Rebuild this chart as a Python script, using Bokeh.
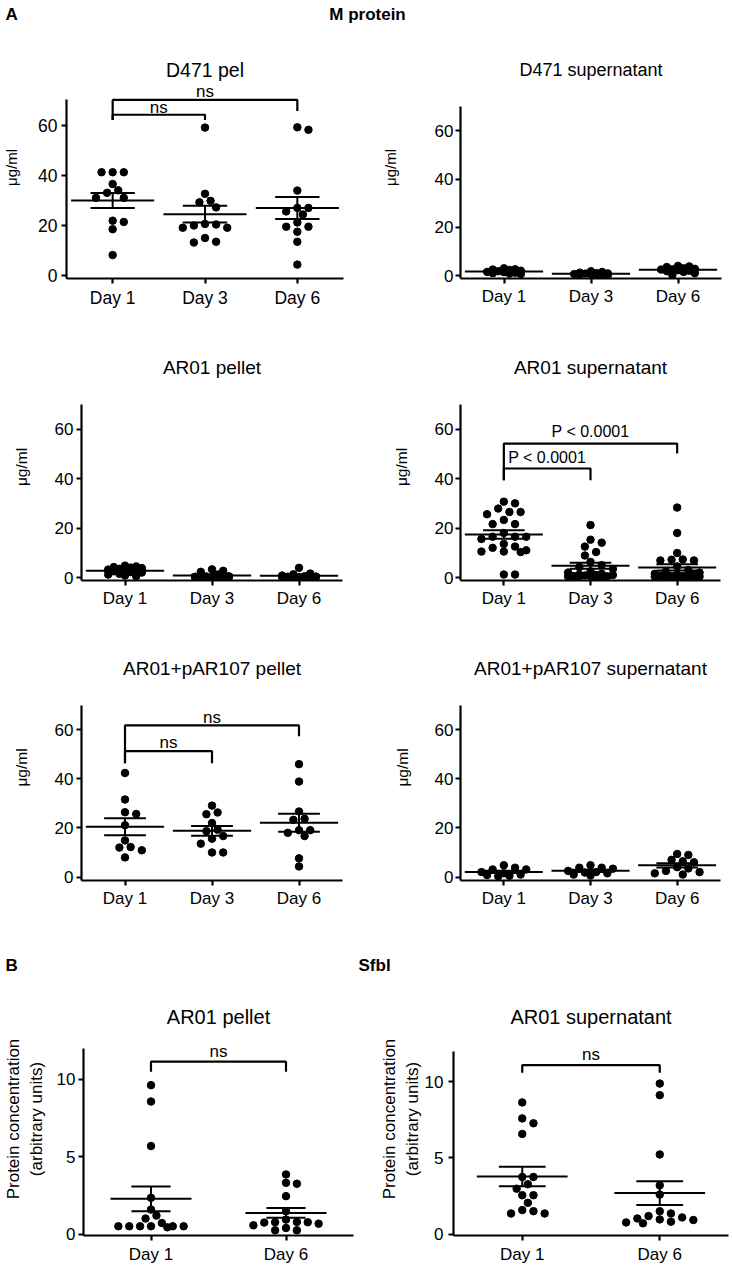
import numpy as np
from bokeh.plotting import figure
from bokeh.models import Range1d, FixedTicker, Label
from bokeh.layouts import column, row
from bokeh.embed import file_html
from bokeh.resources import INLINE

FONT = "Liberation Sans"

# ---------------- data ----------------
days3 = ["Day 1", "Day 3", "Day 6"]
days2 = ["Day 1", "Day 6"]

d471_pel_day1 = [41.2, 41.2, 41.2, 36.5, 34.0, 33.0, 31.0, 31.0, 21.9, 21.4, 18.5, 8.2]
d471_pel_day3 = [59.0, 32.6, 29.8, 29.2, 27.2, 20.6, 20.4, 20.0, 19.1, 19.1, 15.0, 13.5, 13.2]
d471_pel_day6 = [59.1, 58.1, 33.9, 27.0, 27.0, 25.6, 24.4, 21.2, 19.5, 19.5, 17.5, 13.5, 4.4]

d471_sup_day1 = [3.0, 2.6, 2.5, 2.3, 2.0, 1.8, 1.5, 1.4, 1.2, 1.0, 0.8, 0.6]
d471_sup_day3 = [1.8, 1.5, 1.2, 1.0, 0.9, 0.8, 0.6, 0.5, 0.4, 0.3, 0.3, 0.2]
d471_sup_day6 = [4.0, 3.8, 3.5, 3.0, 2.8, 2.6, 2.5, 2.2, 2.0, 1.8, 1.5, 1.0, 0.2]

ar01_pel_day1 = [4.8, 4.5, 4.2, 4.0, 3.8, 3.5, 3.2, 3.0, 2.8, 2.5, 2.2, 2.0, 1.5, 1.2, 0.8, 0.5]
ar01_pel_day3 = [3.3, 2.7, 2.3, 1.2, 0.5, 0.4, 0.3, 0.2, 0.2, 0.1, 0.1, 0.0, 0.0, 0.0]
ar01_pel_day6 = [3.9, 1.6, 1.3, 0.8, 0.5, 0.4, 0.3, 0.2, 0.2, 0.1, 0.1, 0.0, 0.0]

ar01_sup_day1 = [30.7, 30.0, 27.9, 26.5, 26.5, 25.6, 23.3, 21.6, 21.6, 18.0, 16.5, 16.5,
                 16.5, 15.6, 13.6, 12.5, 12.0, 11.0, 10.5, 10.5, 10.3, 1.2, 1.2]
ar01_sup_day3 = [21.2, 15.3, 14.1, 12.5, 10.3, 8.9, 6.3, 5.0, 4.2, 3.5, 2.5, 2.0, 1.5, 1.2,
                 1.0, 1.0, 0.8, 0.6, 0.5, 0.5, 0.4, 0.3, 0.3, 0.2]
ar01_sup_day6 = [28.3, 18.0, 9.9, 7.3, 7.2, 6.9, 6.9, 4.5, 3.0, 2.5, 2.0, 1.5, 1.2, 1.0,
                 0.8, 0.6, 0.6, 0.5, 0.5, 0.4, 0.4, 0.3, 0.3, 0.3, 0.2, 0.2]

par107_pel_day1 = [42.4, 31.6, 26.4, 25.7, 21.1, 14.9, 12.2, 12.0, 10.9, 8.0]
par107_pel_day3 = [29.1, 26.3, 25.6, 22.0, 19.3, 18.7, 16.7, 15.6, 13.6, 10.0, 10.0]
par107_pel_day6 = [46.0, 38.9, 26.7, 23.7, 23.3, 19.1, 19.1, 18.0, 16.7, 7.6, 4.3]

par107_sup_day1 = [4.8, 3.8, 3.1, 3.1, 2.0, 1.5, 1.0, 0.8, 0.5, 0.3]
par107_sup_day3 = [4.8, 3.8, 3.8, 3.4, 2.5, 2.0, 1.8, 1.5, 1.0, 0.6]
par107_sup_day6 = [9.4, 9.0, 7.0, 6.4, 6.0, 4.0, 3.5, 2.5, 2.0, 1.5, 1.0]

sfbl_pel_day1 = [9.63, 8.57, 5.69, 2.34, 1.58, 1.19, 1.0, 0.71, 0.5, 0.5, 0.5, 0.5, 0.5, 0.5, 0.43]
sfbl_pel_day6 = [3.85, 3.31, 3.25, 2.45, 1.47, 0.93, 0.78, 0.76, 0.76, 0.74, 0.67, 0.56, 0.39, 0.24, 0.24]

sfbl_sup_day1 = [8.65, 7.6, 7.28, 6.58, 3.75, 3.75, 3.27, 2.98, 2.55, 2.55, 2.05, 1.57, 1.5, 1.35, 1.35]
sfbl_sup_day6 = [9.89, 9.13, 5.23, 3.2, 2.59, 1.5, 1.35, 1.18, 1.09, 1.02, 0.96, 0.92, 0.81, 0.76, 0.70]

# brackets: (group a, group b, bar level, left leg end, right leg end, label, label level)
d471_pel_brackets = [(1, 3, 70.0, 62.0, 65.6, "ns", 73.5), (1, 2, 64.1, 62.0, 62.0, "ns", 67.0)]
ar01_sup_brackets = [(1, 3, 54.2, 39.3, 50.2, "P < 0.0001", 59.1),
                     (1, 2, 44.1, 39.3, 39.3, "P < 0.0001", 48.6)]
par107_pel_brackets = [(1, 3, 61.8, 46.4, 57.4, "ns", 65.1), (1, 2, 51.3, 46.4, 46.4, "ns", 54.9)]
sfbl_pel_brackets = [(1, 2, 11.15, 10.5, 10.5, "ns", 11.8)]
sfbl_sup_brackets = [(1, 2, 11.1, 10.6, 10.6, "ns", 11.8)]

m_ticks = [0, 20, 40, 60]
s_ticks = [0, 5, 10]


def swarm(vals, xpx, ypx, maxoff, step=5.6, mind=8.0):
    """Spread points sideways (in screen px) so that dots do not overlap."""
    vals = np.asarray(vals, dtype=float)
    order = np.argsort(-vals, kind="stable")
    cands = [0.0]
    j = 1
    while j * step <= maxoff + 1e-9:
        cands += [j * step, -j * step]
        j += 1
    placed = []
    offs = np.zeros(len(vals))
    for idx in order:
        y = vals[idx] * ypx
        best, bestd = 0.0, -1.0
        for c in cands:
            d = min([np.hypot(c - px, y - py) for px, py in placed] or [1e9])
            if d >= mind:
                best = c
                break
            if d > bestd:
                best, bestd = c, d
        placed.append((best, y))
        offs[idx] = best / xpx
    return offs


def style_axis(ax, fs):
    ax.axis_line_width = 2.2
    ax.axis_line_color = "black"
    ax.major_tick_line_width = 2.2
    ax.major_tick_line_color = "black"
    ax.major_tick_in = 0
    ax.major_tick_out = 5
    ax.minor_tick_line_color = None
    ax.major_label_text_font = FONT
    ax.major_label_text_font_size = fs
    ax.major_label_text_color = "black"
    ax.axis_label_text_font = FONT
    ax.axis_label_text_font_style = "normal"
    ax.axis_label_text_color = "black"


def make_panel(spec, groups, cats, brackets):
    x0, y0, w, h = spec["box"]
    L, R, T, B = spec["frame"]
    ymax = spec["ymax"]
    scale = (spec["zero_px"] - spec["top_px"]) / ymax
    ys = -(B - spec["zero_px"]) / scale
    ye = ymax + (spec["top_px"] - T) / scale
    xs, xe = spec["xlim"]
    p = figure(width=w, height=h, x_range=Range1d(xs, xe), y_range=Range1d(ys, ye),
               output_backend="svg", toolbar_location=None,
               min_border_left=L - x0, min_border_right=x0 + w - R,
               min_border_top=T - y0, min_border_bottom=y0 + h - B)
    p.outline_line_color = None
    p.xgrid.visible = False
    p.ygrid.visible = False
    p.background_fill_color = "white"
    p.border_fill_color = "white"

    xpx = (R - L) / (xe - xs)
    mhw, shw = spec["hw"]
    for i, vals in enumerate(groups):
        cx = i + 1
        offs = swarm(vals, xpx, scale, spec["maxoff"])
        p.scatter(x=cx + offs, y=vals, size=7.5, color="black", line_color="black")
        m = float(np.mean(vals))
        se = float(np.std(vals, ddof=1) / np.sqrt(len(vals)))
        p.segment(x0=[cx - mhw, cx - shw, cx - shw, cx], y0=[m, m + se, m - se, m - se],
                  x1=[cx + mhw, cx + shw, cx + shw, cx], y1=[m, m + se, m - se, m + se],
                  line_width=2, color="black")

    for (xa, xb, yb, yla, ylb, txt, ty) in brackets:
        p.line(x=[xa, xa, xb, xb], y=[yla, yb, yb, ylb], line_width=2.2, color="black")
        p.add_layout(Label(x=(xa + xb) / 2, y=ty, text=txt, text_align="center",
                           text_baseline="middle", text_font=FONT,
                           text_font_size=spec["bfs"], text_color="black"))

    # panel title (inside the frame's upper margin)
    ty = ymax + (spec["top_px"] - spec["title_px"]) / scale
    p.add_layout(Label(x=(xs + xe) / 2, y=ty, text=spec["title"], text_align="center",
                       text_baseline="middle", text_font=FONT,
                       text_font_size=spec["tfs"], text_color="black"))

    xa_ = p.xaxis[0]
    ya_ = p.yaxis[0]
    style_axis(xa_, spec["fs"])
    style_axis(ya_, spec["fs"])
    xa_.ticker = FixedTicker(ticks=list(range(1, len(cats) + 1)))
    xa_.major_label_overrides = {i + 1: c for i, c in enumerate(cats)}
    xa_.major_label_standoff = spec["xstand"]
    ya_.ticker = FixedTicker(ticks=spec["yticks"])
    ya_.bounds = (ys, ymax)
    ya_.major_label_standoff = spec["ystand"]
    ya_.axis_label = spec["ylabel"]
    ya_.axis_label_text_font_size = spec["lfs"]
    ya_.axis_label_standoff = spec["als"]
    ya_.axis_label_text_align = "center"
    return p


def header(h, items):
    p = figure(width=732, height=h, x_range=Range1d(0, 732), y_range=Range1d(h, 0),
               output_backend="svg", toolbar_location=None, min_border=0,
               x_axis_location=None, y_axis_location=None)
    p.outline_line_color = None
    p.xgrid.visible = False
    p.ygrid.visible = False
    for (txt, x, y, align) in items:
        p.add_layout(Label(x=x, y=y, text=txt, text_align=align, text_baseline="middle",
                           text_font=FONT, text_font_style="bold", text_font_size="17px",
                           text_color="black"))
    return p


UG = "\u03bcg/ml"
PC = "Protein concentration\n(arbitrary units)"

specs = {
    "p1": dict(box=(0, 30, 358, 280), frame=(64, 343, 44, 279), zero_px=276, top_px=90, ymax=70,
               xlim=(0.5, 3.5), yticks=m_ticks, title="D471 pel", title_px=58, tfs="19.5px",
               fs="17.5px", lfs="15px", ylabel=UG, als=15, xstand=4, ystand=4, bfs="17px",
               hw=(0.45, 0.24), maxoff=24),
    "p2": dict(box=(358, 30, 374, 280), frame=(460, 721, 56, 282), zero_px=279, top_px=107, ymax=70,
               xlim=(0.5, 3.5), yticks=m_ticks, title="D471 supernatant", title_px=70, tfs="18px",
               fs="17px", lfs="15px", ylabel=UG, als=33, xstand=3, ystand=2, bfs="17px",
               hw=(0.45, 0.24), maxoff=22),
    "p3": dict(box=(0, 310, 358, 300), frame=(81, 342, 353, 580), zero_px=577, top_px=404, ymax=70,
               xlim=(0.5, 3.5), yticks=m_ticks, title="AR01 pellet", title_px=367, tfs="19px",
               fs="17px", lfs="15.5px", ylabel=UG, als=22, xstand=3, ystand=3, bfs="17px",
               hw=(0.45, 0.24), maxoff=22),
    "p4": dict(box=(358, 310, 374, 300), frame=(460, 720, 353, 580), zero_px=577, top_px=404, ymax=70,
               xlim=(0.5, 3.5), yticks=m_ticks, title="AR01 supernatant", title_px=367, tfs="19px",
               fs="17px", lfs="15.5px", ylabel=UG, als=22, xstand=3, ystand=2, bfs="16px",
               hw=(0.45, 0.24), maxoff=24),
    "p5": dict(box=(0, 610, 358, 300), frame=(81, 342, 654, 881), zero_px=877.5, top_px=705, ymax=70,
               xlim=(0.5, 3.5), yticks=m_ticks, title="AR01+pAR107 pellet", title_px=668, tfs="19px",
               fs="17px", lfs="15.5px", ylabel=UG, als=22, xstand=3, ystand=3, bfs="17px",
               hw=(0.45, 0.24), maxoff=24),
    "p6": dict(box=(358, 610, 374, 300), frame=(460, 720, 654, 881), zero_px=877.5, top_px=705, ymax=70,
               xlim=(0.5, 3.5), yticks=m_ticks, title="AR01+pAR107 supernatant", title_px=668,
               tfs="19px", fs="17px", lfs="15.5px", ylabel=UG, als=21, xstand=3, ystand=2,
               bfs="17px", hw=(0.45, 0.24), maxoff=24),
    "p7": dict(box=(0, 975, 358, 291), frame=(75, 353, 1002, 1235), zero_px=1233.5, top_px=1048, ymax=12,
               xlim=(0.5, 2.5), yticks=s_ticks, title="AR01 pellet", title_px=1016, tfs="20px",
               fs="17px", lfs="17px", ylabel=PC, als=8, xstand=4, ystand=3, bfs="17px",
               hw=(0.3, 0.145), maxoff=36),
    "p8": dict(box=(358, 975, 374, 291), frame=(453, 728, 1002, 1235), zero_px=1233.5, top_px=1051, ymax=12,
               xlim=(0.5, 2.5), yticks=s_ticks, title="AR01 supernatant", title_px=1016, tfs="20px",
               fs="17px", lfs="17px", ylabel=PC, als=0, xstand=4, ystand=5, bfs="17px",
               hw=(0.33, 0.17), maxoff=36),
}

p1 = make_panel(specs["p1"], [d471_pel_day1, d471_pel_day3, d471_pel_day6], days3, d471_pel_brackets)
p2 = make_panel(specs["p2"], [d471_sup_day1, d471_sup_day3, d471_sup_day6], days3, [])
p3 = make_panel(specs["p3"], [ar01_pel_day1, ar01_pel_day3, ar01_pel_day6], days3, [])
p4 = make_panel(specs["p4"], [ar01_sup_day1, ar01_sup_day3, ar01_sup_day6], days3, ar01_sup_brackets)
p5 = make_panel(specs["p5"], [par107_pel_day1, par107_pel_day3, par107_pel_day6], days3, par107_pel_brackets)
p6 = make_panel(specs["p6"], [par107_sup_day1, par107_sup_day3, par107_sup_day6], days3, [])
p7 = make_panel(specs["p7"], [sfbl_pel_day1, sfbl_pel_day6], days2, sfbl_pel_brackets)
p8 = make_panel(specs["p8"], [sfbl_sup_day1, sfbl_sup_day6], days2, sfbl_sup_brackets)

head_a = header(30, [("A", 5, 14, "left"), ("M protein", 367, 14, "center")])
head_b = header(65, [("B", 5, 55, "left"), ("Sfbl", 358, 55, "left")])

layout = column(head_a, row(p1, p2), row(p3, p4), row(p5, p6), head_b, row(p7, p8))

with open("out.html", "w") as f:
    f.write(file_html(layout, INLINE))
